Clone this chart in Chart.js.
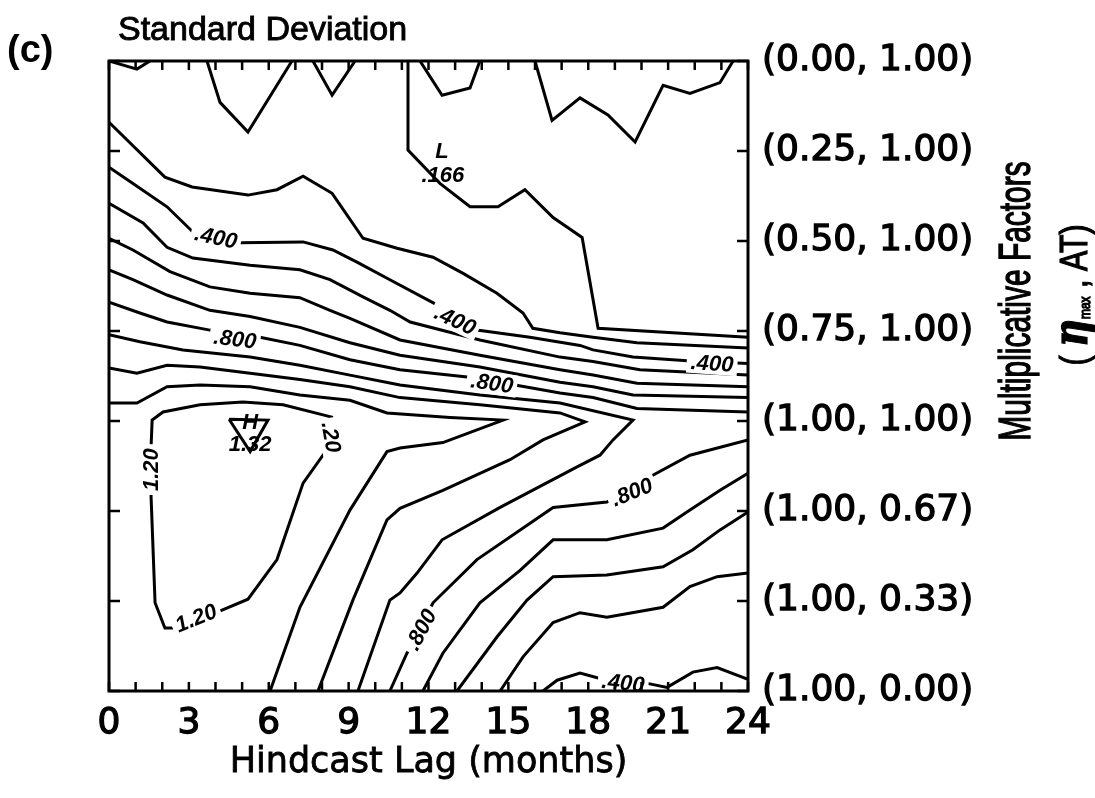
<!DOCTYPE html>
<html>
<head>
<meta charset="utf-8">
<script src="https://cdn.jsdelivr.net/npm/chart.js@4.4.1/dist/chart.umd.min.js"></script>
<style>
  html, body { margin: 0; padding: 0; background: #fff; }
</style>
</head>
<body>
<canvas id="sdChart" width="1095" height="798"></canvas>
<script>
// x: hindcast lag (months), y: row index of the multiplicative factor pair
const lagTicks = [0, 3, 6, 9, 12, 15, 18, 21, 24];
const factorLabels = ['(1.00, 0.00)', '(1.00, 0.33)', '(1.00, 0.67)', '(1.00, 1.00)',
                      '(0.75, 1.00)', '(0.50, 1.00)', '(0.25, 1.00)', '(0.00, 1.00)'];

// contour lines, [lag, row] pairs
const sd020a = [[0,7],[1.05,6.91],[1.54,7]];
const sd020b = [[3.68,7],[4.17,6.54],[5.22,6.21],[6.87,7]];
const sd020c = [[7.66,7],[8.38,6.62],[9.24,7]];
const sd020d = [[11.68,7],[12.51,6.62],[13.56,6.70],[13.93,7]];
const sd020e = [[16.0,7],[16.64,6.34],[17.69,6.59],[18.74,6.40],[19.76,6.10],[20.81,6.73],[21.82,6.64],[22.95,6.76],[23.44,7]];
const sd020f = [[11.23,7],[11.23,6.01],[12.43,5.64],[13.56,5.38],[14.61,5.38],[15.62,5.57],[16.68,5.26],[17.77,5.04],[18.37,4.03],[24,3.93]];
const sd030 = [[0,6.32],[2.10,5.71],[3.12,5.60],[5.22,5.51],[6.31,5.57],[7.29,5.72],[8.38,5.53],[9.54,5.03],[10.82,4.92],[12.17,4.82],[13.30,4.64],[14.57,4.42],[15.55,4.20],[15.92,4.03],[16.94,3.98],[18.18,3.93],[19.83,3.87],[24,3.81]];
const sd040 = [[0,5.82],[0.90,5.64],[2.18,5.38],[3.15,5.10],[4.92,4.98],[7.29,4.99],[8.41,4.90],[9.35,4.76],[10.55,4.57],[12.32,4.29],[13.82,4.01],[15.81,3.93],[17.69,3.84],[18.18,3.79],[19.68,3.71],[21.71,3.67],[24,3.64]];
const sd040b = [[16.30,0],[16.83,0.12],[17.69,0.20],[18.44,0.14],[20.13,0.09],[20.96,0.04],[21.93,0.21],[22.84,0.26],[24,0.13]];
const sd050 = [[0,5.42],[1.28,5.20],[2.18,4.93],[3.15,4.81],[5.30,4.73],[7.17,4.68],[8.30,4.57],[9.54,4.38],[10.55,4.23],[11.31,4.10],[13.93,3.90],[16.94,3.71],[18.18,3.66],[19.94,3.57],[24,3.51]];
const sd050b = [[14.69,0],[15.55,0.38],[16.68,0.76],[17.69,0.87],[18.70,0.82],[20.81,0.93],[21.82,1.16],[22.84,1.27],[24,1.31]];
const sd060 = [[0,5.03],[0.90,4.90],[2.29,4.66],[3.79,4.49],[5.30,4.42],[7.17,4.37],[8.30,4.23],[9.05,4.14],[10.93,3.90],[13.93,3.73],[16.94,3.57],[18.18,3.51],[19.83,3.42],[24,3.38]];
const sd060b = [[13.07,0],[14.57,0.60],[15.70,1.01],[16.68,1.27],[18.70,1.29],[20.81,1.38],[21.93,1.57],[22.95,1.79],[24,1.99]];
const sd070 = [[0,4.68],[0.90,4.57],[2.18,4.40],[3.79,4.23],[5.30,4.16],[7.17,4.04],[9.05,3.87],[10.93,3.73],[13.93,3.60],[16.94,3.43],[18.18,3.38],[19.68,3.29],[24,3.26]];
const sd070b = [[11.79,0],[12.54,0.42],[13.93,0.98],[15.44,1.34],[16.68,1.68],[18.70,1.68],[20.81,1.81],[21.82,2.01],[22.95,2.23],[24,2.42]];
const sd080 = [[0,4.32],[1.16,4.20],[2.18,4.10],[3.79,4.01],[5.67,3.93],[7.17,3.84],[9.05,3.68],[10.93,3.57],[13.45,3.49],[15.25,3.40],[16.94,3.31],[18.18,3.26],[19.83,3.14],[24,3.10]];
const sd080b = [[10.55,0],[11.19,0.42],[12.17,0.98],[13.82,1.46],[16.68,2.04],[18.70,2.10],[20.32,2.38],[21.82,2.62],[24,2.79]];
const sd090 = [[0,3.96],[1.16,3.88],[2.78,3.79],[5.30,3.71],[7.17,3.62],[9.05,3.51],[10.93,3.40],[13.93,3.29],[16.94,3.20],[19.68,3.01],[18.93,2.79],[18.44,2.62],[17.58,2.49],[14.69,2.04],[12.51,1.68],[11.57,1.31],[10.93,1.09],[10.55,1.01],[9.35,0]];
const sd100 = [[0,3.59],[1.05,3.53],[2.18,3.62],[3.42,3.60],[5.30,3.53],[7.17,3.46],[9.05,3.38],[10.93,3.26],[13.93,3.18],[16.94,3.09],[17.88,2.99],[16.30,2.79],[15.06,2.57],[12.54,2.23],[10.93,2.03],[10.44,1.90],[9.16,1.01],[7.85,0]];
const sd110 = [[0,3.20],[1.05,3.20],[2.18,3.38],[3.42,3.40],[5.30,3.38],[7.17,3.29],[9.05,3.23],[10.44,3.09],[12.81,3.04],[14.80,3.01],[12.54,2.76],[10.93,2.70],[10.44,2.66],[9.05,2.01],[7.17,0.93],[6.05,0]];
const sd120 = [[8.41,3.04],[6.54,3.18],[5.03,3.21],[3.42,3.18],[2.03,3.10],[1.62,3.01],[1.58,2.71],[1.58,2.16],[1.73,0.98],[2.10,0.70],[2.40,0.70],[4.09,0.88],[5.22,1.02],[6.31,1.46],[7.29,2.31],[8.30,2.73],[8.41,3.04]];
const sd130 = [[4.51,3.02],[5.97,3.01],[5.30,2.66],[4.51,3.02]];

const contours = [sd020a, sd020b, sd020c, sd020d, sd020e, sd020f, sd030, sd040, sd040b,
                  sd050, sd050b, sd060, sd060b, sd070, sd070b, sd080, sd080b, sd090,
                  sd100, sd110, sd120, sd130];

// in-line contour labels: text, lag, row, angle (deg)
const levelLabels = [
    ['.400', 4.02, 5.04, 12],
    ['.400', 13.0, 4.12, 25],
    ['.400', 22.65, 3.64, 4],
    ['.800', 4.73, 3.91, 7],
    ['.800', 14.38, 3.42, 8],
    ['.800', 11.72, 0.68, -62],
    ['.800', 19.64, 2.21, -22],
    ['.400', 19.31, 0.09, 6],
    ['1.20', 1.58, 2.46, -90],
    ['1.20', 3.27, 0.81, -22],
    ['.20', 8.34, 2.82, 80]
];
const extremaLabels = [['L', 12.51, 5.99], ['.166', 12.54, 5.72], ['H', 5.30, 2.98], ['1.32', 5.30, 2.73]];

// heavier text, closer to the scanned print
function inkText(ctx, text, x, y, w) {
    ctx.lineWidth = w;
    ctx.strokeText(text, x, y);
    ctx.fillText(text, x, y);
}

const framePlugin = {
    id: 'frame',
    afterDatasetsDraw(chart) {
        const {ctx, chartArea: a, scales: {x, y}} = chart;
        ctx.save();
        ctx.strokeStyle = '#000';
        // contour labels with white knock-out
        ctx.font = 'italic bold 22px "Liberation Sans"';
        ctx.textAlign = 'center';
        ctx.textBaseline = 'middle';
        levelLabels.forEach(([text, lag, row, ang]) => {
            const w = ctx.measureText(text).width + 8;
            ctx.save();
            ctx.translate(x.getPixelForValue(lag), y.getPixelForValue(row));
            ctx.rotate(ang * Math.PI / 180);
            ctx.fillStyle = '#fff';
            ctx.fillRect(-w / 2, -11, w, 22);
            ctx.fillStyle = '#000';
            ctx.fillText(text, 0, 1);
            ctx.restore();
        });
        extremaLabels.forEach(([text, lag, row]) => {
            ctx.fillText(text, x.getPixelForValue(lag), y.getPixelForValue(row));
        });

        // frame and inward ticks
        ctx.lineWidth = 3;
        ctx.strokeRect(a.left, a.top, a.right - a.left, a.bottom - a.top);
        ctx.lineWidth = 2.5;
        ctx.beginPath();
        x.ticks.forEach(t => {
            const px = x.getPixelForValue(t.value);
            ctx.moveTo(px, a.top); ctx.lineTo(px, a.top + 9);
            ctx.moveTo(px, a.bottom); ctx.lineTo(px, a.bottom - 9);
        });
        y.ticks.forEach(t => {
            const py = y.getPixelForValue(t.value);
            ctx.moveTo(a.left, py); ctx.lineTo(a.left + 11, py);
            ctx.moveTo(a.right, py); ctx.lineTo(a.right - 11, py);
        });
        ctx.stroke();
        ctx.restore();
    },
    afterDraw(chart) {
        const ctx = chart.ctx;
        ctx.save();
        ctx.fillStyle = '#000';
        ctx.strokeStyle = '#000';
        ctx.textBaseline = 'alphabetic';
        ctx.textAlign = 'left';
        ctx.font = 'bold 38px "Liberation Sans"';
        ctx.fillText('(c)', 7, 62);
        ctx.font = '34px "Liberation Sans"';
        inkText(ctx, 'Standard Deviation', 118, 40, 0.9);

        // right-hand axis title, condensed and rotated
        ctx.save();
        ctx.translate(1030, 301);
        ctx.rotate(-Math.PI / 2);
        ctx.scale(0.68, 1);
        ctx.font = '44px "Liberation Sans"';
        ctx.textAlign = 'center';
        inkText(ctx, 'Multiplicative Factors', 0, 0, 1.4);
        ctx.restore();

        const parts = [
            {t: '( ', f: '38px "Liberation Sans"', dy: 0},
            {t: 'η', f: 'bold italic 48px "DejaVu Serif"', dy: 0},
            {t: 'max', f: '15px "Liberation Sans"', dy: 3},
            {t: ' , AT)', f: '38px "Liberation Sans"', dy: 0}
        ];
        ctx.save();
        ctx.translate(1087, 295);
        ctx.rotate(-Math.PI / 2);
        ctx.scale(0.8, 1);
        let total = 0;
        parts.forEach(p => { ctx.font = p.f; p.w = ctx.measureText(p.t).width; total += p.w; });
        let cx = -total / 2;
        parts.forEach(p => {
            ctx.font = p.f;
            inkText(ctx, p.t, cx, p.dy, 1.2);
            cx += p.w;
        });
        ctx.restore();

        // x-axis title
        const {chartArea: a} = chart;
        ctx.font = '35px "DejaVu Sans"';
        ctx.textAlign = 'center';
        inkText(ctx, 'Hindcast Lag (months)', (a.left + a.right) / 2, 772, 0.8);
        ctx.restore();
    }
};

Chart.defaults.color = '#000';

new Chart(document.getElementById('sdChart').getContext('2d'), {
    type: 'line',
    data: {
        datasets: contours.map(c => ({
            data: c.map(([lag, row]) => ({x: lag, y: row})),
            borderColor: '#000',
            borderWidth: 3,
            pointRadius: 0,
            tension: 0,
            fill: false
        }))
    },
    options: {
        responsive: false,
        animation: false,
        parsing: false,
        layout: {padding: {left: 109, top: 61, right: 0, bottom: 0}},
        plugins: {legend: {display: false}, tooltip: {enabled: false}},
        scales: {
            x: {
                type: 'linear',
                min: 0,
                max: 24,
                afterFit: s => { s.height = 107; },
                grid: {display: false, drawTicks: false},
                border: {display: false},
                ticks: {
                    stepSize: 1,
                    autoSkip: false,
                    maxRotation: 0,
                    padding: 11,
                    font: {family: 'DejaVu Sans', size: 36},
                    textStrokeColor: '#000',
                    textStrokeWidth: 1.3,
                    callback: v => lagTicks.includes(v) ? String(v) : ''
                }
            },
            y: {
                type: 'linear',
                position: 'right',
                min: 0,
                max: 7,
                afterFit: s => { s.width = 347; },
                grid: {display: false, drawTicks: false},
                border: {display: false},
                ticks: {
                    stepSize: 1,
                    autoSkip: false,
                    padding: 14,
                    font: {family: 'DejaVu Sans', size: 36},
                    textStrokeColor: '#000',
                    textStrokeWidth: 1.3,
                    callback: v => factorLabels[v]
                }
            }
        }
    },
    plugins: [framePlugin]
});
</script>
</body>
</html>
